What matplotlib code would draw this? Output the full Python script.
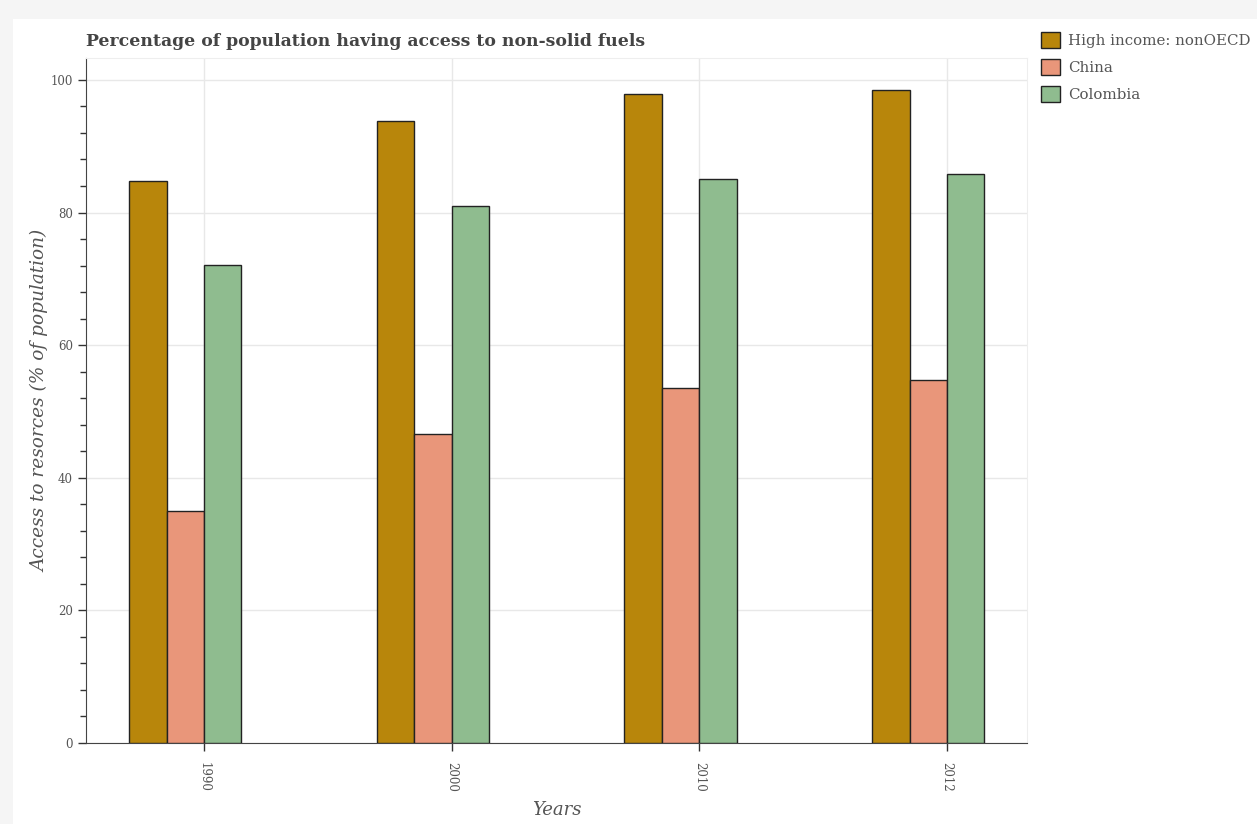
import numpy as np
import matplotlib
matplotlib.use("Agg")
from matplotlib import pyplot as plt
from matplotlib.patches import Rectangle
from matplotlib.ticker import MultipleLocator

# data
years = ["1990", "2000", "2010", "2012"]
high_income = [84.8, 93.8, 97.9, 98.5]
china = [35.0, 46.6, 53.5, 54.8]
colombia = [72.1, 81.0, 85.1, 85.8]

plt.rcParams['font.family'] = ['DejaVu Serif']

fig = plt.figure(figsize=(12.57, 8.24), dpi=100)
fig.patch.set_facecolor('#f5f5f5')
# white card behind the chart
fig.patches.append(Rectangle((13 / 1257, 0), 1, 1 - 19 / 824, transform=fig.transFigure,
                             facecolor='white', edgecolor='none', zorder=-10))

ax = fig.add_axes([86 / 1257, 1 - 743 / 824, (1027 - 86) / 1257, (743 - 58) / 824])
ax.set_facecolor('white')

x = np.arange(len(years))
w = 0.151
series = [("High income: nonOECD", high_income, '#b8860b'),
          ("China", china, '#e9967a'),
          ("Colombia", colombia, '#8fbc8f')]
for i, (name, vals, col) in enumerate(series):
    ax.bar(x + (i - 2) * w, vals, width=w, align='edge', color=col,
           edgecolor='#222222', linewidth=1.0, label=name, zorder=3)

ax.set_xlim(-0.476, 3.323)
ax.set_ylim(0, 103.3)
ax.set_xticks(x)
ax.set_xticklabels(years, rotation=270, fontsize=8.5, color='#555555')
ax.yaxis.set_major_locator(MultipleLocator(20))
ax.yaxis.set_minor_locator(MultipleLocator(4))
ax.tick_params(axis='y', labelsize=8.5, labelcolor='#555555')
ax.tick_params(which='major', length=6, width=1, color='#333333')
ax.tick_params(which='minor', length=4, width=1, color='#333333')
ax.tick_params(axis='x', pad=8)

ax.grid(True, color='#e8e8e8', linewidth=1, zorder=0)
ax.set_axisbelow(True)
for s in ['top', 'right']:
    ax.spines[s].set_color('#eeeeee')
for s in ['left', 'bottom']:
    ax.spines[s].set_color('#444444')

ax.set_xlabel("Years", fontsize=13, style='italic', color='#555555', labelpad=6)
ax.set_ylabel("Access to resorces (% of population)", fontsize=13.3, style='italic',
              color='#555555', labelpad=1)
ax.set_title("Percentage of population having access to non-solid fuels", loc='left',
             fontsize=12.4, fontweight='bold', color='#444444', pad=9)

leg = ax.legend(loc='upper left', bbox_to_anchor=(1.009, 1.047), frameon=False,
                fontsize=10.8, labelcolor='#555555', handlelength=1.25, handleheight=1.3,
                handletextpad=0.55, borderaxespad=0, labelspacing=0.72)

fig.savefig("out.png", dpi=100, facecolor=fig.get_facecolor())
